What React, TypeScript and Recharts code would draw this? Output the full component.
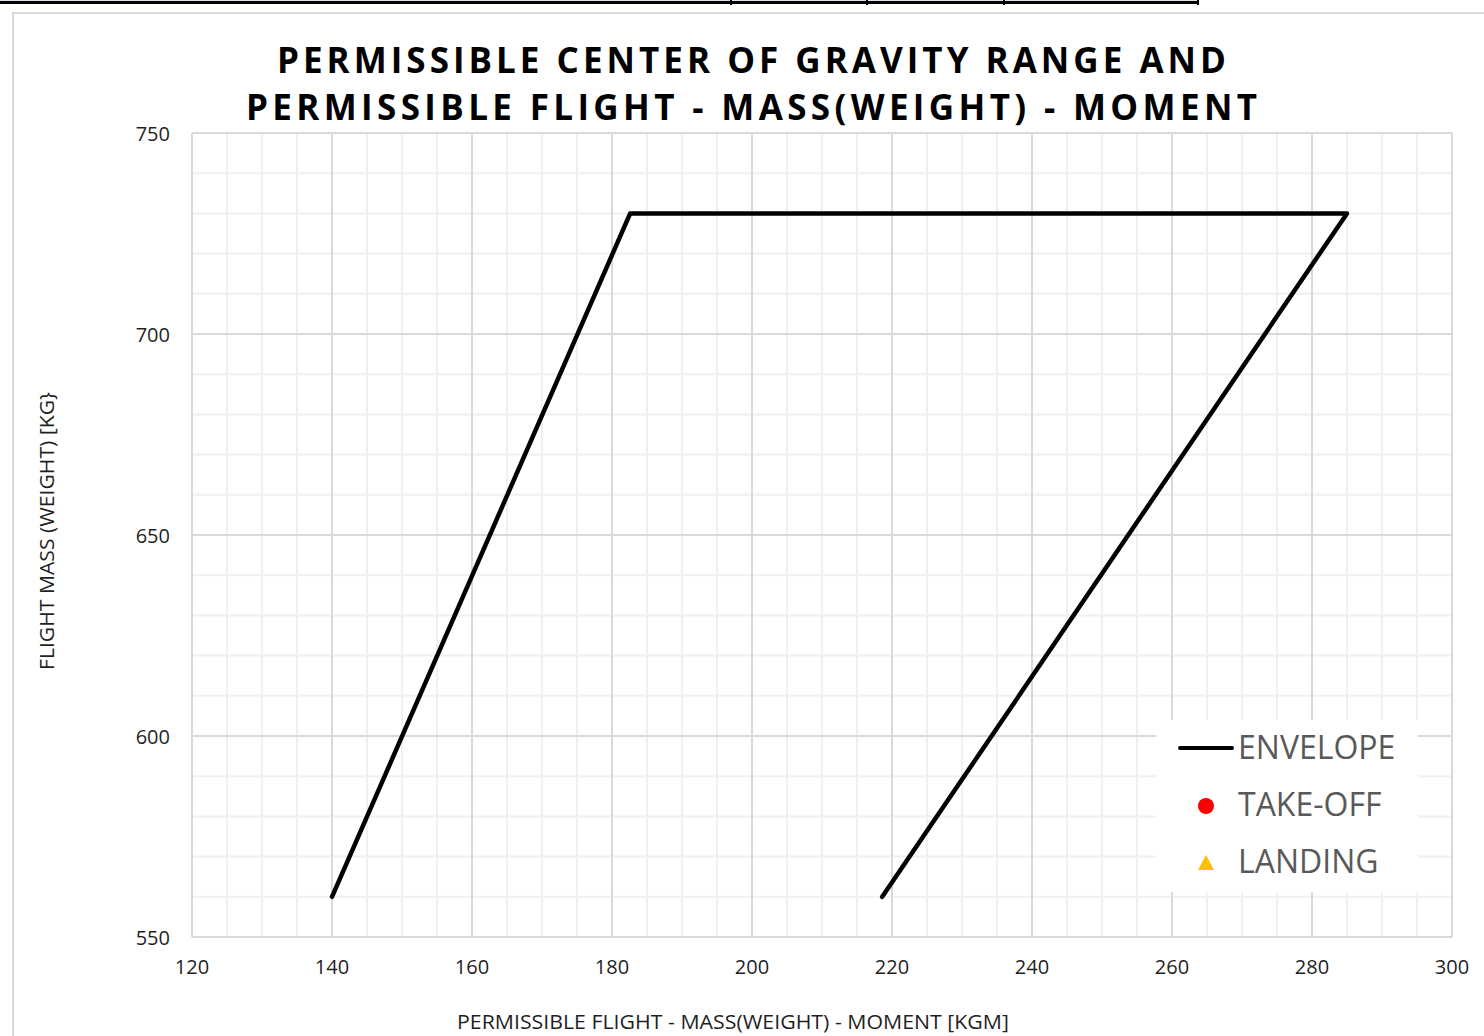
import React from "react";
import {
  ComposedChart,
  Line,
  Scatter,
  XAxis,
  YAxis,
  ReferenceLine,
} from "recharts";

const envelope = [
  { x: 140, y: 560 },
  { x: 182.6, y: 730 },
  { x: 285, y: 730 },
  { x: 218.6, y: 560 },
];
const takeOff: { x: number; y: number }[] = [];
const landing: { x: number; y: number }[] = [];

const seriesNames = ["ENVELOPE", "TAKE-OFF", "LANDING"];

const xTicks = [120, 140, 160, 180, 200, 220, 240, 260, 280, 300];
const yTicks = [550, 600, 650, 700, 750];
const xMinor = [
  125, 130, 135, 145, 150, 155, 165, 170, 175, 185, 190, 195, 205, 210, 215,
  225, 230, 235, 245, 250, 255, 265, 270, 275, 285, 290, 295,
];
const yMinor = [
  560, 570, 580, 590, 610, 620, 630, 640, 660, 670, 680, 690, 710, 720, 730,
  740,
];

const titleLine1 = "PERMISSIBLE CENTER OF GRAVITY RANGE AND";
const titleLine2 = "PERMISSIBLE FLIGHT - MASS(WEIGHT) - MOMENT";
const xTitle = "PERMISSIBLE FLIGHT - MASS(WEIGHT) - MOMENT [KGM]";
const yTitle = "FLIGHT MASS (WEIGHT) [KG}";

const FONT = "'Open Sans', 'DejaVu Sans', sans-serif";

const LegendBox = () => (
  <svg
    width={262}
    height={172}
    style={{ position: "absolute", left: 1156, top: 720, display: "block" }}
  >
    <rect x={0} y={0} width={262} height={172} fill="#fff" />
    {seriesNames.map((name, i) => {
      const cy = 28 + i * 57;
      let icon: React.ReactNode = null;
      if (i === 0) {
        icon = <line x1={24} x2={76} y1={cy} y2={cy} stroke="#000" strokeWidth={4} strokeLinecap="round" />;
      } else if (i === 1) {
        icon = <circle cx={50} cy={cy + 1} r={8} fill="#ff0000" />;
      } else {
        icon = <polygon points={`${50},${cy - 7} ${58},${cy + 8} ${42},${cy + 8}`} fill="#ffc000" />;
      }
      return (
        <g key={name}>
          {icon}
          <text x={82} y={cy + 11} fontSize={32} fill="#595959" fontFamily={FONT}>
            {name}
          </text>
        </g>
      );
    })}
  </svg>
);

export default function App() {
  return (
    <div
      style={{
        position: "absolute",
        left: 0,
        top: 0,
        width: 1484,
        height: 1036,
        overflow: "hidden",
        background: "#fff",
        fontFamily: FONT,
      }}
    >
      {/* remnant of table above */}
      <div style={{ position: "absolute", left: 0, top: 0, width: 1199, height: 1, background: "#dde3ee" }} />
      <div style={{ position: "absolute", left: 0, top: 1, width: 1199, height: 3, background: "#000" }} />
      {[730, 866, 1003, 1197].map((x) => (
        <div key={x} style={{ position: "absolute", left: x, top: 0, width: 2, height: 5, background: "#000" }} />
      ))}
      {/* chart area border */}
      <div
        style={{
          position: "absolute",
          left: 12,
          top: 12,
          width: 1600,
          height: 1200,
          border: "2px solid #d9d9d9",
          boxSizing: "border-box",
        }}
      />
      <div style={{ position: "absolute", left: 0, top: 0 }}>
        <ComposedChart
          width={1484}
          height={1036}
          margin={{ top: 133, right: 32, bottom: 59, left: 92 }}
        >
          <XAxis
            type="number"
            dataKey="x"
            domain={[120, 300]}
            ticks={xTicks}
            interval={0}
            allowDataOverflow
            height={40}
            tickSize={0}
            tickMargin={23}
            axisLine={{ stroke: "#d9d9d9", strokeWidth: 2 }}
            tick={{ fontSize: 20, fill: "#1f1f1f", fontFamily: FONT }}
          />
          <YAxis
            type="number"
            dataKey="y"
            domain={[550, 750]}
            ticks={yTicks}
            interval={0}
            allowDataOverflow
            width={100}
            tickSize={0}
            tickMargin={22}
            axisLine={{ stroke: "#d9d9d9", strokeWidth: 2 }}
            tick={{ fontSize: 20, fill: "#1f1f1f", fontFamily: FONT, dy: 1 }}
          />
          {xMinor.map((v) => (
            <ReferenceLine key={"xm" + v} x={v} stroke="#f0f0f0" strokeWidth={2} />
          ))}
          {yMinor.map((v) => (
            <ReferenceLine key={"ym" + v} y={v} stroke="#f0f0f0" strokeWidth={2} />
          ))}
          {xTicks.slice(1).map((v) => (
            <ReferenceLine key={"xM" + v} x={v} stroke="#d9d9d9" strokeWidth={2} />
          ))}
          {yTicks.slice(1).map((v) => (
            <ReferenceLine key={"yM" + v} y={v} stroke="#d9d9d9" strokeWidth={2} />
          ))}
          <Line
            data={envelope}
            dataKey="y"
            name={seriesNames[0]}
            type="linear"
            stroke="#000"
            strokeWidth={4.5}
            strokeLinecap="round"
            strokeLinejoin="round"
            dot={false}
            activeDot={false}
            isAnimationActive={false}
          />
          <Scatter
            data={takeOff}
            dataKey="y"
            name={seriesNames[1]}
            fill="#ff0000"
            isAnimationActive={false}
          />
          <Scatter
            data={landing}
            dataKey="y"
            name={seriesNames[2]}
            fill="#ffc000"
            shape="triangle"
            isAnimationActive={false}
          />
        </ComposedChart>
      </div>
      <LegendBox />
      <svg
        width={1484}
        height={1036}
        style={{ position: "absolute", left: 0, top: 0, pointerEvents: "none" }}
      >
        <text
          x={751.5}
          y={73}
          textAnchor="middle"
          fontSize={35}
          fontWeight={700}
          fontFamily={FONT}
          fill="#000"
          textLength={949}
          lengthAdjust="spacing"
        >
          {titleLine1}
        </text>
        <text
          x={751.5}
          y={120}
          textAnchor="middle"
          fontSize={35}
          fontWeight={700}
          fontFamily={FONT}
          fill="#000"
          textLength={1011}
          lengthAdjust="spacing"
        >
          {titleLine2}
        </text>
        <text
          x={733}
          y={1029}
          textAnchor="middle"
          fontSize={20}
          fontFamily={FONT}
          fill="#1f1f1f"
          textLength={552}
          lengthAdjust="spacingAndGlyphs"
        >
          {xTitle}
        </text>
        <text
          x={54}
          y={531}
          textAnchor="middle"
          fontSize={20}
          fontFamily={FONT}
          fill="#1f1f1f"
          transform="rotate(-90 54 531)"
          textLength={278}
          lengthAdjust="spacingAndGlyphs"
        >
          {yTitle}
        </text>
      </svg>
    </div>
  );
}
